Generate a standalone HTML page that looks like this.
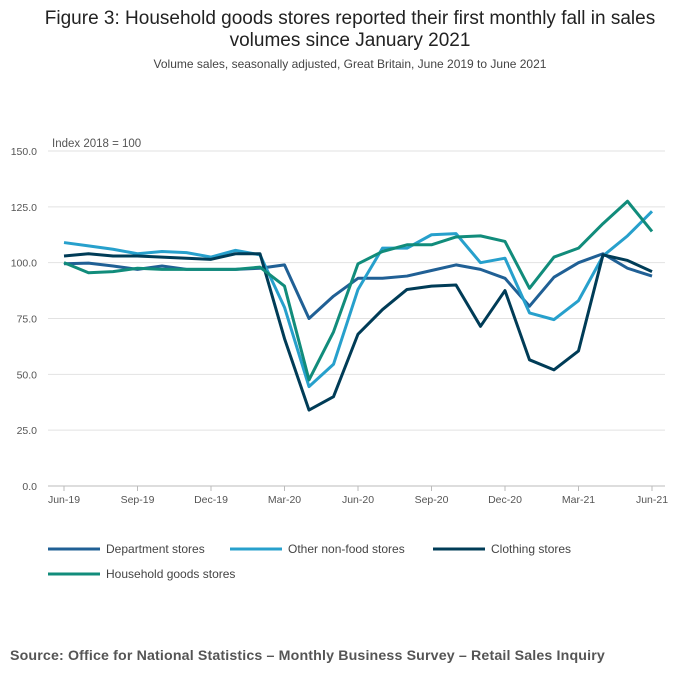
<!DOCTYPE html>
<html><head><meta charset="utf-8"><style>
body{margin:0;background:#fff;font-family:"Liberation Sans",sans-serif;}
</style></head><body>
<svg width="700" height="682" xmlns="http://www.w3.org/2000/svg">
<text x="350" y="24" text-anchor="middle" font-size="19" fill="#222">Figure 3: Household goods stores reported their first monthly fall in sales</text>
<text x="350" y="46" text-anchor="middle" font-size="19" fill="#222">volumes since January 2021</text>
<text x="350" y="68" text-anchor="middle" font-size="12" fill="#444">Volume sales, seasonally adjusted, Great Britain, June 2019 to June 2021</text>
<text x="52" y="147" font-size="11.5" fill="#555">Index 2018 = 100</text>
<g id="grid"></g><g id="lines"></g><g id="legend"></g>
<text x="10" y="660" font-size="14.2" letter-spacing="0.15" font-weight="bold" fill="#555">Source: Office for National Statistics – Monthly Business Survey – Retail Sales Inquiry</text>
</svg>
<script>
const months=["Jun-19","Jul-19","Aug-19","Sep-19","Oct-19","Nov-19","Dec-19","Jan-20","Feb-20","Mar-20","Apr-20","May-20","Jun-20","Jul-20","Aug-20","Sep-20","Oct-20","Nov-20","Dec-20","Jan-21","Feb-21","Mar-21","Apr-21","May-21","Jun-21"];
const xTickLabels=["Jun-19","Sep-19","Dec-19","Mar-20","Jun-20","Sep-20","Dec-20","Mar-21","Jun-21"];
const yTicks=[0,25,50,75,100,125,150];
const department=[99.5,99.8,98.5,97,98.5,97,97,97,97.5,99,75,85,93,93,94,96.5,99,97,93,80.5,93.5,100,104,97.5,94];
const otherNonFood=[109,107.5,106,104,105,104.5,102.5,105.5,103.5,80,44.5,54.5,88,106.5,106.5,112.5,113,100,102,77.5,74.5,83,103,112,123];
const clothing=[103,104,103,103,102.5,102,101.5,104,104,66,34,40,68,79,88,89.5,90,71.5,87.5,56.5,52,60.5,103.5,101,96];
const household=[100,95.5,96,97.5,97,97,97,97,98,89.5,47.5,69,99.5,105,108,108,111.5,112,109.5,88.5,102.5,106.5,117.5,127.5,114];
const NS="http://www.w3.org/2000/svg";
const x=i=>64+i*(588/24);
const y=v=>486-v*(335/150);
function mk(t,a,p){const e=document.createElementNS(NS,t);for(const k in a)e.setAttribute(k,a[k]);p.appendChild(e);return e;}
const grid=document.getElementById('grid');
yTicks.forEach(v=>{
 const l=mk('line',{x1:48,x2:665,y1:y(v),y2:y(v),stroke:v===0?'#bbb':'#e2e2e2','stroke-width':1},grid);
 
 
 const t=mk('text',{x:37,y:y(v)+4,'text-anchor':'end','font-size':10.5,fill:'#555'},grid);t.textContent=v.toFixed(1);
 
 
});
xTickLabels.forEach(lab=>{
 const i=months.indexOf(lab);
 const tk=mk('line',{x1:x(i),x2:x(i),y1:486,y2:491,stroke:'#bbb'},grid);
 
 
 const t=mk('text',{x:x(i),y:503,'text-anchor':'middle','font-size':10.5,fill:'#555'},grid);t.textContent=lab;
 
 
});
const series=[
 {name:'Department stores',data:department,color:'#206095',key:'department'},
 {name:'Other non-food stores',data:otherNonFood,color:'#27a0cc',key:'other-non-food'},
 {name:'Clothing stores',data:clothing,color:'#003c57',key:'clothing'},
 {name:'Household goods stores',data:household,color:'#118c7b',key:'household-goods'}];
const lines=document.getElementById('lines');
series.forEach(s=>{
 const p=mk('polyline',{points:s.data.map((v,i)=>x(i)+','+y(v)).join(' '),fill:'none',stroke:s.color,'stroke-width':3,'stroke-linejoin':'round'},lines);
 
 
});
const pos=[[48,549],[230,549],[433,549],[48,574]];
const leg=document.getElementById('legend');
series.forEach((s,i)=>{
 const g=mk('g',{},leg);
 
 
 mk('line',{x1:pos[i][0],x2:pos[i][0]+52,y1:pos[i][1],y2:pos[i][1],stroke:s.color,'stroke-width':3},g);
 const t=mk('text',{x:pos[i][0]+58,y:pos[i][1]+4,'font-size':12,fill:'#444'},g);t.textContent=s.name;
});
</script>
</body></html>
